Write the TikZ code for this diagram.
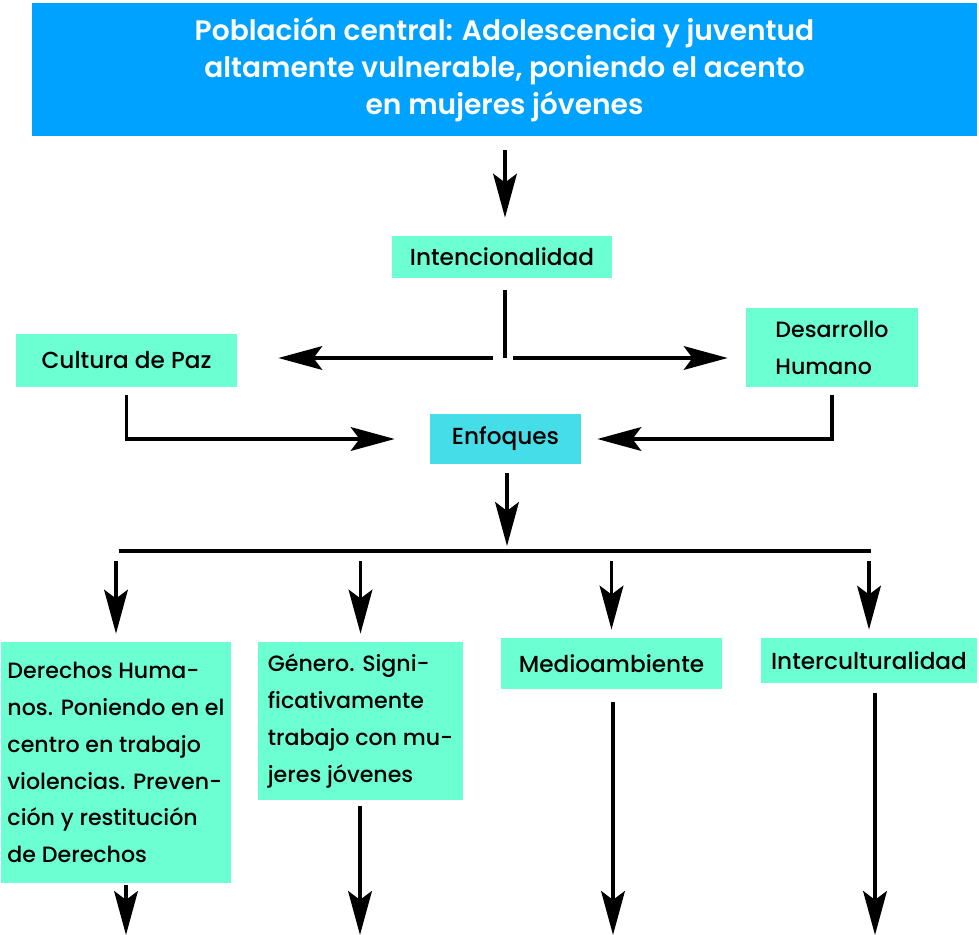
\documentclass[tikz,border=0pt]{standalone}
\usepackage{fontspec}
\setmainfont{Poppins Medium}
\newfontfamily\titlefont{Poppins SemiBold}
\usetikzlibrary{
    positioning,
    calc,
    arrows.meta
}
\definecolor{titleblue}{RGB}{0,162,255}
\definecolor{mint}{RGB}{108,255,210}
\definecolor{aqua}{RGB}{69,221,232}
\tikzset{
  basic/.style = {
      inner sep=0pt,
      font=\fontsize{13.2}{21}\selectfont,
      align=center
  },
  size/.style 2 args = {
      minimum width=#1*0.02cm,
      minimum height=#2*0.02cm
  },
  mintbox/.style = {
      basic,
      fill=mint
  },
  textbox/.style = {
      mintbox,
      align=left,
      font=\fontsize{12.6}{21}\selectfont
  },
  headbox/.style = {
      basic,
      fill=titleblue,
      text=white,
      font=\titlefont\fontsize{16}{21}\selectfont
  },
  focusbox/.style = {
      basic,
      fill=aqua
  },
  link/.style = {
      line width=2pt
  },
  arrow/.style = {
      link,
      -{Stealth[length=25pt,width=13.5pt,inset=5pt]}
  }
}

\begin{document}
\begin{tikzpicture}[x=0.02cm, y=-0.02cm]
        \useasboundingbox (0,0) rectangle (979,935);
        % Boxes
        \node[headbox, size={945}{133}] (poblacion) at (504.5,69.5)
            {Población central: Adolescencia y juventud\\
             altamente vulnerable, poniendo el acento\\
             en mujeres jóvenes};
        \node[mintbox, size={220}{42}] (intencion) at (502,257) {Intencionalidad};
        \node[mintbox, size={221}{53}] (paz) at (126.5,360.5) {Cultura de Paz};
        \node[textbox, size={172}{79}] (desarrollo) at (832,347.5)
            {Desarrollo\\Humano};
        \node[focusbox, size={151}{50}] (enfoques) at (505.5,439) {Enfoques};
        \node[textbox, size={230}{241}] (derechos) at (116,762.5)
            {Derechos Huma-\\nos. Poniendo en el\\centro en trabajo\\
             violencias. Preven-\\ción y restitución\\de Derechos};
        \node[textbox, size={205}{158}] (genero) at (360.5,721)
            {Género. Signi-\\ficativamente\\trabajo con mu-\\jeres jóvenes};
        \node[mintbox, size={221}{51}] (medio) at (611.5,663.5) {Medioambiente};
        \node[mintbox, size={216}{45}] (inter) at (869,660.5) {Interculturalidad};
        % Points
        \coordinate (fork) at (505,358);
        \coordinate (barL) at (119,551);
        \coordinate (barR) at (871,551);
        \coordinate (bar) at (507,551);
        \coordinate (endD) at (126,935);
        \coordinate (endG) at (360,935);
        \coordinate (endM) at (613,935);
        \coordinate (endI) at (875,935);
        % Edges
        \draw[arrow, shorten <=14*0.02cm, shorten >=18*0.02cm]
            (poblacion.south -| fork) -- (intencion.north -| fork);
        \draw[link, shorten <=12*0.02cm] (intencion.south -| fork) -- (fork);
        \draw[arrow, shorten <=12*0.02cm, shorten >=41*0.02cm] (fork) -- (paz.east |- fork);
        \draw[arrow, shorten <=8*0.02cm, shorten >=18*0.02cm] (fork) -- (desarrollo.west |- fork);
        \draw[arrow, shorten <=8*0.02cm, shorten >=35*0.02cm] (paz.south) |- (enfoques.west);
        \draw[arrow, shorten <=8*0.02cm, shorten >=16*0.02cm] (desarrollo.south) |- (enfoques.east);
        \draw[arrow, shorten <=9*0.02cm, shorten >=5*0.02cm] (enfoques.south -| bar) -- (bar);
        \draw[link, line width=2.3pt] (barL) -- (barR);
        \foreach \boxname in {derechos, genero, medio, inter}
            \draw[arrow, shorten <=10*0.02cm, shorten >=8*0.02cm] (\boxname.north |- bar) -- (\boxname.north);
        \draw[arrow, shorten <=2*0.02cm] (derechos.south -| endD) -- (endD);
        \draw[arrow, shorten <=6*0.02cm] (genero.south -| endG) -- (endG);
        \draw[arrow, shorten <=13*0.02cm] (medio.south -| endM) -- (endM);
        \draw[arrow, shorten <=10*0.02cm] (inter.south -| endI) -- (endI);
    \end{tikzpicture}
\end{document}
